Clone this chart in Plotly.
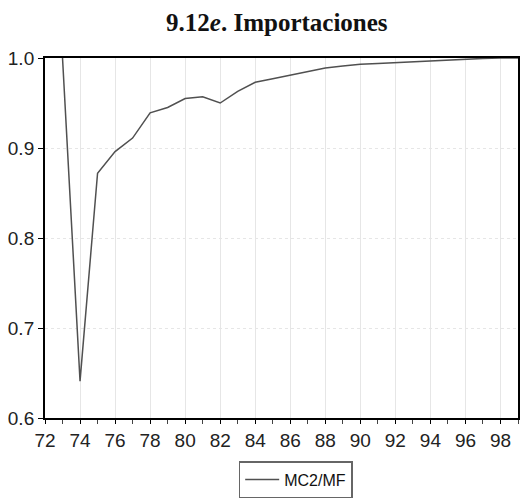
import plotly.graph_objects as go

years = list(range(73, 100))
values = [1.000, 0.641, 0.872, 0.896, 0.911, 0.939, 0.945, 0.955, 0.957, 0.950,
          0.963, 0.973, 0.977, 0.981, 0.985, 0.989, 0.991, 0.993, 0.994, 0.995,
          0.996, 0.997, 0.998, 0.999, 0.9995, 1.000, 1.000]
series_name = "MC2/MF"
title_text = "<b>9.12<i>e</i>. Importaciones</b>"
x_ticks = list(range(72, 99, 2))
y_ticks = [0.6, 0.7, 0.8, 0.9, 1.0]

fig = go.Figure()
fig.add_trace(go.Scatter(x=years, y=values, mode="lines", name=series_name,
                         line=dict(color="#505050", width=1.5), cliponaxis=True))

fig.update_layout(
    width=522, height=491,
    margin=dict(l=37, r=12, t=50, b=81, autoexpand=False),
    paper_bgcolor="white", plot_bgcolor="white",
    title=dict(text=title_text, x=0.515, xanchor="center", y=0.971, yanchor="middle",
               font=dict(family="Liberation Serif", size=25, color="#111")),
    showlegend=True,
    legend=dict(orientation="h", x=0.53, xanchor="center", y=-0.12, yanchor="top",
                bordercolor="#666", borderwidth=1.5,
                font=dict(family="Liberation Sans", size=16, color="#111"),
                itemwidth=34, tracegroupgap=0),
    font=dict(family="Liberation Sans", size=18, color="#111"),
)
fig.update_xaxes(range=[72, 99], tickmode="array", tickvals=x_ticks,
                 ticktext=[str(t) for t in x_ticks], automargin=False,
                 showgrid=True, gridcolor="#e6e6e6", gridwidth=1,
                 showline=True, linecolor="black", linewidth=2, mirror=True,
                 ticks="outside", ticklen=4, tickcolor="black", tickwidth=1,
                 minor=dict(dtick=1, ticks="outside", ticklen=4, tickcolor="#444", showgrid=False),
                 zeroline=False, tickfont=dict(size=19, color="#222"))
fig.update_yaxes(range=[0.6, 1.0], tickmode="array", tickvals=y_ticks,
                 ticktext=[f"{v:.1f}" for v in y_ticks], automargin=False,
                 showgrid=True, gridcolor="#e6e6e6", gridwidth=1, griddash="dot",
                 showline=True, linecolor="black", linewidth=2, mirror=True,
                 ticks="outside", ticklen=5, tickcolor="black",
                 zeroline=False, tickfont=dict(size=19, color="#222"))

fig.write_html("out.html")
